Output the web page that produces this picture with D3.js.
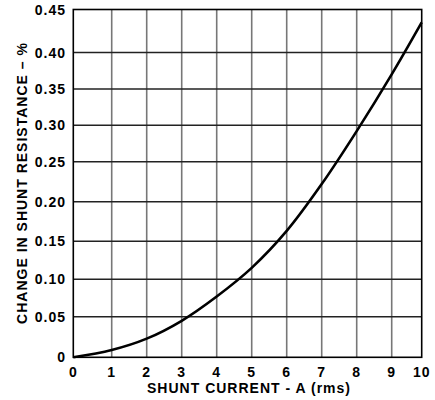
<!DOCTYPE html>
<html>
<head>
<meta charset="utf-8">
<script src="https://cdn.jsdelivr.net/npm/d3@7"></script>
<style>
  html, body { margin: 0; padding: 0; background: #fff; }
  svg text { font-family: "Liberation Sans", Arial, sans-serif; font-weight: bold; fill: #000; }
</style>
</head>
<body>
<svg id="chart" width="435" height="400"></svg>
<script>
// Data
const currentA = [0, 1, 2, 3, 4, 5, 6, 7, 8, 9, 10];
const changePct = [0, 0.009, 0.023, 0.045, 0.077, 0.115, 0.163, 0.222, 0.292, 0.370, 0.435];
const xTicks = [0, 1, 2, 3, 4, 5, 6, 7, 8, 9, 10];
const xTickLabels = ["0", "1", "2", "3", "4", "5", "6", "7", "8", "9", "10"];
const yTicks = [0, 0.05, 0.10, 0.15, 0.20, 0.25, 0.30, 0.35, 0.40, 0.45];
const yTickLabels = ["0", "0.05", "0.10", "0.15", "0.20", "0.25", "0.30", "0.35", "0.40", "0.45"];
const xTitle = "SHUNT CURRENT - A (rms)";
const yTitle = "CHANGE IN SHUNT RESISTANCE \u2013 %";

const svg = d3.select("#chart");
const pLeft = 73.3, pRight = 421.7, pTop = 9.5, pBottom = 357.3;

// The printed grid of the original is slightly uneven; piecewise-linear scales follow it.
const x = d3.scaleLinear().domain([0, 1, 9, 10]).range([pLeft, 111.7, 391.7, pRight]);
const y = d3.scaleLinear()
  .domain(yTicks)
  .range([pBottom, 316.7, 279.3, 241.2, 201.7, 161.7, 125.3, 89, 52.5, pTop]);

const g = svg.append("g");

// vertical grid lines
g.selectAll("line.vg").data(xTicks.slice(1, -1)).enter().append("line")
  .attr("x1", d => x(d)).attr("x2", d => x(d))
  .attr("y1", pTop).attr("y2", pBottom)
  .attr("stroke", "#777").attr("stroke-width", 1.6);

// horizontal grid lines
g.selectAll("line.hg").data(yTicks.slice(1, -1)).enter().append("line")
  .attr("x1", pLeft).attr("x2", pRight)
  .attr("y1", d => y(d)).attr("y2", d => y(d))
  .attr("stroke", "#222").attr("stroke-width", 1.4);

// border
g.append("rect")
  .attr("x", pLeft).attr("y", pTop)
  .attr("width", pRight - pLeft).attr("height", pBottom - pTop)
  .attr("fill", "none").attr("stroke", "#000").attr("stroke-width", 1.6);

// curve
const line = d3.line()
  .x((d, i) => x(currentA[i]))
  .y(d => y(d))
  .curve(d3.curveCatmullRom.alpha(0.5));
g.append("path")
  .datum(changePct)
  .attr("d", line)
  .attr("fill", "none")
  .attr("stroke", "#000")
  .attr("stroke-width", 2.6);

// x tick labels
g.selectAll("text.xt").data(xTicks).enter().append("text")
  .attr("x", d => x(d)).attr("y", 377)
  .attr("text-anchor", "middle")
  .attr("font-size", 14)
  .attr("letter-spacing", 1)
  .text((d, i) => xTickLabels[i]);

// y tick labels
g.selectAll("text.yt").data(yTicks).enter().append("text")
  .attr("x", 66).attr("y", d => y(d) + 5)
  .attr("text-anchor", "end")
  .attr("font-size", 14)
  .attr("letter-spacing", 1)
  .text((d, i) => yTickLabels[i]);

// x title
g.append("text")
  .attr("x", 249).attr("y", 393)
  .attr("text-anchor", "middle")
  .attr("font-size", 14)
  .attr("letter-spacing", 1)
  .text(xTitle);

// y title
g.append("text")
  .attr("transform", "translate(27,183) rotate(-90)")
  .attr("text-anchor", "middle")
  .attr("font-size", 14)
  .attr("letter-spacing", 1)
  .text(yTitle);
</script>
</body>
</html>
